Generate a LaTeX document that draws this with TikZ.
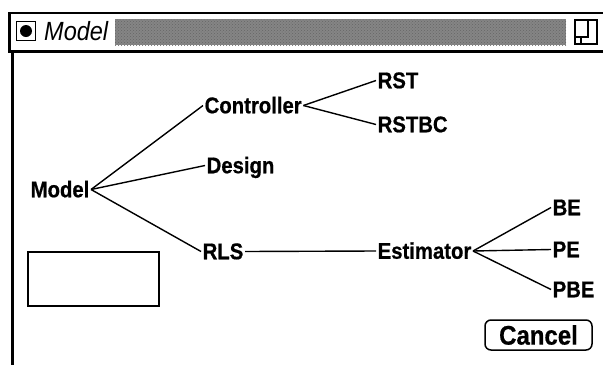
\documentclass[tikz,border=0pt]{standalone}
\usepackage{fontspec}
\setmainfont{Liberation Sans}
\newfontfamily\labfont{Liberation Sans Bold}[FakeBold=0.7]
\usetikzlibrary{patterns}
\newcommand{\tallx}[1]{\scalebox{1}[1.12]{#1}}
\begin{document}
\begin{tikzpicture}[x=1pt,y=-1pt,
  lab/.style={font=\fontsize{20.3}{22}\labfont, inner sep=1.5pt,
    text height=15.5pt, text depth=0pt, anchor=west},
  conn/.style={line width=1.4pt},
  frame/.style={line width=1.5pt}]
\useasboundingbox[fill=white] (0,0) rectangle (603,365);
% window frame
\draw[frame] (8,13) -- (603,13);
\draw[line width=3pt] (9,12) -- (9,53);
\draw[line width=3pt] (8,51.5) -- (603,51.5);
\draw[line width=3.2pt] (12.5,51) -- (12.5,365);
% close box
\node[draw, line width=1.4pt, minimum width=19pt, minimum height=19pt, inner sep=0pt] (close) at (26,31) {};
\fill (close.center) circle (6pt);
% title
\node[font=\fontsize{23.5}{25}\selectfont\itshape, anchor=west, inner sep=0pt] (title) at (44,31) {\tallx{Model}};
% stipple
\fill[black!48] (115,19) rectangle (566,45);
\fill[pattern=crosshatch dots, pattern color=black!60] (115,19) rectangle (566,45);
% zoom icon
\node[draw, line width=1.4pt, minimum width=22pt, minimum height=24pt, inner sep=0pt] (icon) at (586,32) {};
\draw[line width=1.4pt] (575,37) -- (588,37) -- (588,20);
\draw[line width=1.4pt] (581,37) -- (581,44);
% nodes
\node[lab] (model) at (29,189.5) {\tallx{Model}};
\node[lab] (ctrl) at (203,105.5) {\tallx{Controller}};
\node[lab] (design) at (205,165.5) {\tallx{Design}};
\node[lab] (rls) at (201,251.5) {\tallx{RLS}};
\node[lab] (rst) at (376,80.5) {\tallx{RST}};
\node[lab] (rstbc) at (376,124.5) {\tallx{RSTBC}};
\node[lab] (est) at (376,251) {\tallx{Estimator}};
\node[lab] (be) at (551,207.5) {\tallx{BE}};
\node[lab] (pe) at (551,249.5) {\tallx{PE}};
\node[lab] (pbe) at (551,289.5) {\tallx{PBE}};
% connectors
\draw[conn] (model.east) -- (ctrl.west);
\draw[conn] (model.east) -- (design.west);
\draw[conn] (model.east) -- (rls.west);
\draw[conn] (ctrl.east) -- (rst.west);
\draw[conn] (ctrl.east) -- (rstbc.west);
\draw[conn] (rls.east) -- (est.west);
\draw[conn] (est.east) -- (be.west);
\draw[conn] (est.east) -- (pe.west);
\draw[conn] (est.east) -- (pbe.west);
% empty field
\node[draw, line width=1.3pt, minimum width=131pt, minimum height=54pt, inner sep=0pt] (field) at (93.5,279) {};
% cancel button
\node[draw, line width=1.5pt, rounded corners=6pt, minimum width=107pt, minimum height=30pt,
  font=\fontsize{24}{26}\labfont, inner sep=0pt] (cancel) at (538.5,335) {\tallx{Cancel}};
\end{tikzpicture}
\end{document}
